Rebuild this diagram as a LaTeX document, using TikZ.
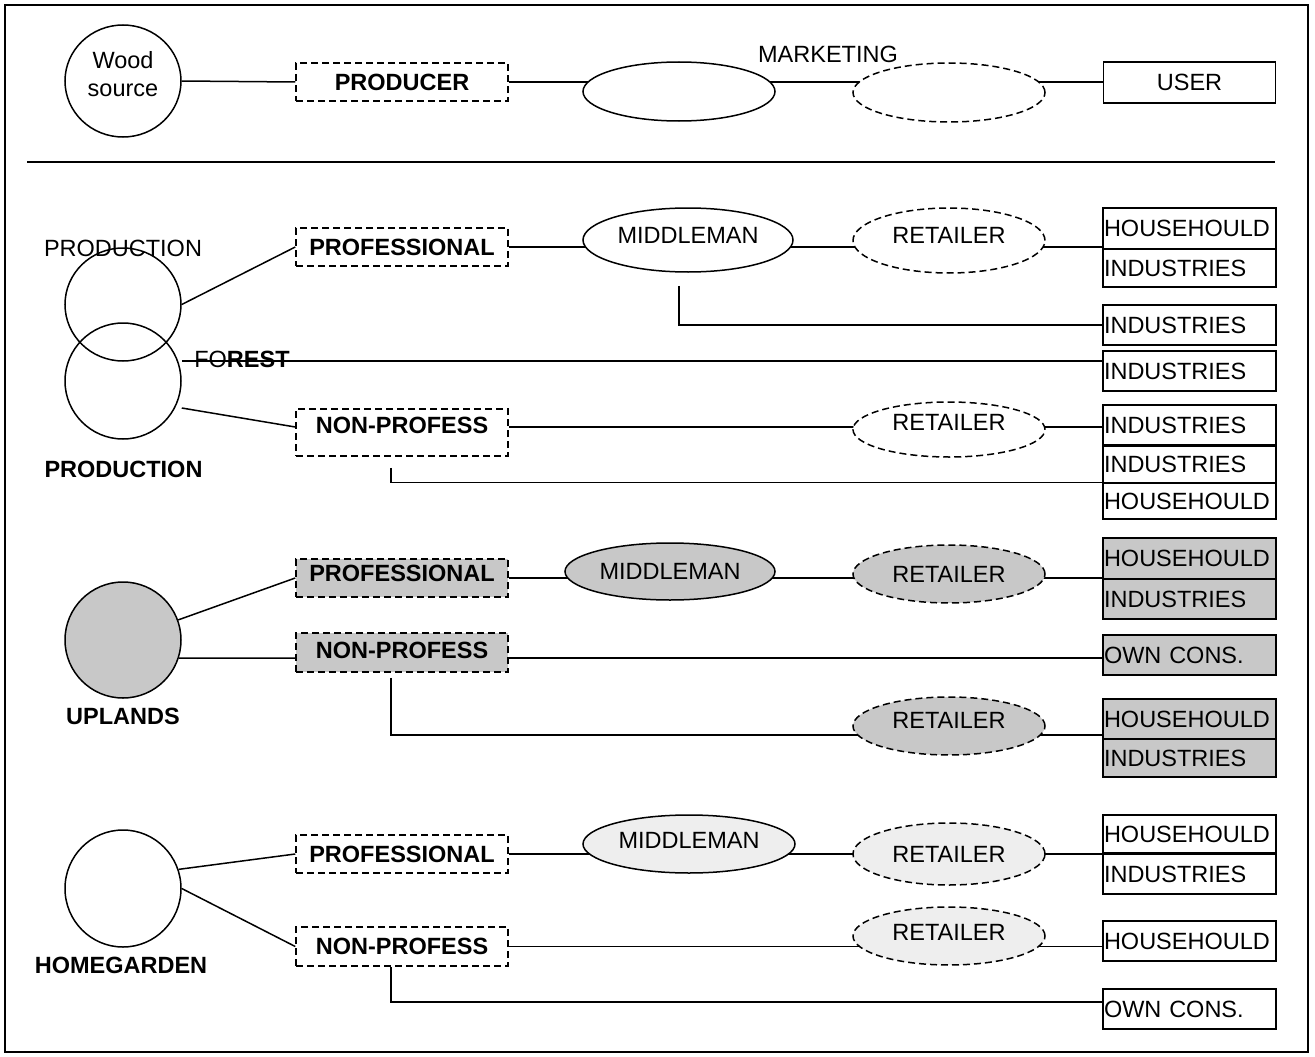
\documentclass[tikz,border=0pt]{standalone}
\usepackage{fontspec}
\setmainfont{Liberation Sans}
\usetikzlibrary{shapes.geometric,backgrounds}
\definecolor{upg}{RGB}{200,200,200}
\definecolor{lig}{RGB}{238,238,238}
\begin{document}
\begin{tikzpicture}[x=1pt,y=-1pt,line width=1.5pt,
  font=\fontsize{23.5}{28}\selectfont,
  lbl/.style={font=\fontsize{23.5}{28}\selectfont\bfseries},
  dbox/.style={draw,dash pattern=on 7pt off 4pt,minimum width=212pt,inner sep=0pt,fill=white,
    font=\fontsize{23.5}{28}\selectfont\bfseries},
  ubox/.style={draw,text width=171pt,inner xsep=1pt,inner ysep=0pt,align=left,fill=white},
  oval/.style={ellipse,draw,inner sep=0pt,fill=white},
  doval/.style={oval,dash pattern=on 7pt off 4pt},
  src/.style={ellipse,draw,minimum width=116pt,minimum height=115pt,inner sep=0pt},
  conn/.style={draw,line width=1.5pt}]
\useasboundingbox (0,0) rectangle (1315,1057);
\draw[line width=2pt] (5,5) rectangle (1308,1052);
\draw (27,162) -- (1275,162);

% ---- top row
\node[src,fill=white,minimum height=112pt,align=center,text depth=14pt] (wood) at (123,81) {Wood\\source};
\node[dbox,minimum height=38pt] (producer) at (402,82) {PRODUCER};
\node[oval,minimum width=192pt,minimum height=59pt] (etop) at (679,91.5) {};
\node[doval,minimum width=192pt,minimum height=59pt] (emkt) at (949,92.5) {};
\node (mkt) at (828,54) {MARKETING};
\node[draw,minimum width=172pt,minimum height=41pt,inner sep=0pt,fill=white] (user) at (1189.5,82.5) {USER};

% ---- production forest
\node[src,minimum height=113pt] (prodU) at (123,304.5) {};
\node[src,minimum height=116pt] (prodL) at (123,381) {};
\node (prodtxt) at (123,248) {PRODUCTION};
\node (forest) at (242,359) {FO\textbf{REST}};
\node[lbl] (prodlbl) at (123.5,469) {PRODUCTION};
\node[dbox,minimum height=38pt] (prof1) at (402,247) {PROFESSIONAL};
\node[oval,minimum width=210pt,minimum height=64pt,text depth=10pt] (mid1) at (688,240) {MIDDLEMAN};
\node[doval,minimum width=192pt,minimum height=65pt,text depth=10pt] (ret1) at (949,240.5) {RETAILER};
\node[ubox,minimum height=41pt] (hh1) at (1189.5,228.5) {HOUSEHOULD};
\node[ubox,minimum height=38pt] (in1) at (1189.5,268) {INDUSTRIES};
\node[ubox,minimum height=40pt] (in2) at (1189.5,325) {INDUSTRIES};
\node[ubox,minimum height=40pt] (in3) at (1189.5,371) {INDUSTRIES};
\node[dbox,minimum height=47pt,text depth=15pt] (np1) at (402,432.5) {NON-PROFESS};
\node[doval,minimum width=192pt,minimum height=55pt,text depth=14pt] (ret2) at (949,429.5) {RETAILER};
\node[ubox,minimum height=40pt] (in4) at (1189.5,425) {INDUSTRIES};
\node[ubox,minimum height=37pt] (in5) at (1189.5,464.5) {INDUSTRIES};
\node[ubox,minimum height=36pt] (hh2) at (1189.5,501) {HOUSEHOULD};

% ---- uplands
\node[src,fill=upg,minimum height=116pt] (upl) at (123,640) {};
\node[lbl] (upltxt) at (123,716.5) {UPLANDS};
\node[dbox,fill=upg,minimum height=38pt,text depth=10pt] (prof2) at (402,578) {PROFESSIONAL};
\node[oval,fill=upg,minimum width=210pt,minimum height=57pt] (mid2) at (670,571.5) {MIDDLEMAN};
\node[doval,fill=upg,minimum width=192pt,minimum height=58pt] (ret3) at (949,574) {RETAILER};
\node[ubox,fill=upg,minimum height=41pt] (hh3) at (1189.5,558.5) {HOUSEHOULD};
\node[ubox,fill=upg,minimum height=40pt] (in6) at (1189.5,599) {INDUSTRIES};
\node[dbox,fill=upg,minimum height=39pt,text depth=5pt] (np2) at (402,652.5) {NON-PROFESS};
\node[ubox,fill=upg,minimum height=40pt] (own1) at (1189.5,655) {OWN CONS.};
\node[doval,fill=upg,minimum width=192pt,minimum height=58pt,text depth=12pt] (ret4) at (949,726) {RETAILER};
\node[ubox,fill=upg,minimum height=40pt] (hh4) at (1189.5,719) {HOUSEHOULD};
\node[ubox,fill=upg,minimum height=38pt] (in7) at (1189.5,758) {INDUSTRIES};

% ---- homegarden
\node[src,fill=white,minimum height=117pt] (home) at (123,888.5) {};
\node[lbl] (hometxt) at (121,965) {HOMEGARDEN};
\node[dbox,minimum height=38pt] (prof3) at (402,854) {PROFESSIONAL};
\node[oval,fill=lig,minimum width=212pt,minimum height=58pt,text depth=8pt] (mid3) at (689,844) {MIDDLEMAN};
\node[doval,fill=lig,minimum width=192pt,minimum height=62pt] (ret5) at (949,854) {RETAILER};
\node[ubox,minimum height=38pt] (hh5) at (1189.5,834) {HOUSEHOULD};
\node[ubox,minimum height=40pt] (in8) at (1189.5,874) {INDUSTRIES};
\node[dbox,minimum height=39pt] (np3) at (402,946.5) {NON-PROFESS};
\node[doval,fill=lig,minimum width=192pt,minimum height=58pt,text depth=8pt] (ret6) at (949,936) {RETAILER};
\node[ubox,minimum height=40pt] (hh6) at (1189.5,941) {HOUSEHOULD};
\node[ubox,minimum height=40pt] (own2) at (1189.5,1009) {OWN CONS.};

% ---- connectors
\begin{pgfonlayer}{background}
\draw[conn] (wood.east) -- (producer.west);
\draw[conn] (producer.east) -- (producer.east -| user.west);
\draw[conn] (prodU.east) -- (prof1.west);
\draw[conn] (prof1.east) -- (prof1.east -| hh1.west);
\draw[conn] ([xshift=-9pt,yshift=-13pt]mid1.south) |- (in2.west);
\coordinate (fr) at ([yshift=10pt]in3.west);
\draw[conn] (fr -| prodL.east) -- (fr);
\coordinate (np1l) at ([yshift=5.5pt]np1.west);
\coordinate (np1r) at ([yshift=5.5pt]np1.east);
\draw[conn] ([yshift=-27pt]prodL.east) -- (np1l);
\draw[conn] (np1r) -- (np1r -| in4.west);
\draw[conn] ([xshift=-11pt,yshift=-11pt]np1.south) |- (hh2.north west);
\draw[conn] (upl.20) -- (prof2.west);
\draw[conn] (prof2.east) -- (prof2.east -| hh3.west);
\coordinate (np2l) at ([yshift=-5.5pt]np2.west);
\coordinate (np2r) at ([yshift=-5.5pt]np2.east);
\draw[conn] (upl.-18) -- (np2l);
\draw[conn] (np2r) -- (np2r -| own1.west);
\draw[conn] ([xshift=-11pt,yshift=-5pt]np2.south) |- ([yshift=-16pt]hh4.west);
\draw[conn] (home.19) -- (prof3.west);
\draw[conn] (prof3.east) -- (prof3.east -| hh5.west);
\draw[conn] (home.east) -- (np3.west);
\draw[conn] (np3.east) -- (np3.east -| hh6.west);
\draw[conn] ([xshift=-11pt]np3.south) |- ([yshift=7pt]own2.west);
\end{pgfonlayer}
\end{tikzpicture}
\end{document}
